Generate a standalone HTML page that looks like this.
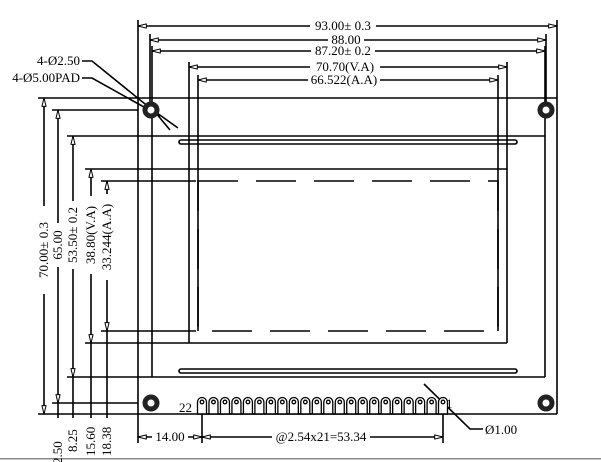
<!DOCTYPE html>
<html><head><meta charset="utf-8"><style>
html,body{margin:0;padding:0;background:#fff;}
svg{display:block;}
text{font-family:"Liberation Serif",serif;font-size:13px;fill:#000;}
</style></head><body>
<svg width="601" height="462" viewBox="0 0 601 462" xmlns="http://www.w3.org/2000/svg">
<defs>
<marker id="a" viewBox="0 0 10 6" refX="10" refY="3" markerWidth="11" markerHeight="5" orient="auto-start-reverse" markerUnits="userSpaceOnUse"><path d="M0,0.5 L10,3 L0,5.5 Z" fill="#fff" stroke="#000" stroke-width="1.2"/></marker>
</defs>
<g stroke="#000" stroke-width="1.6" fill="none">
<line x1="138" y1="20" x2="138" y2="443"/>
<line x1="557" y1="20" x2="557" y2="414"/>
<line x1="38" y1="98" x2="557" y2="98"/>
<line x1="38" y1="414" x2="557" y2="414"/>
<line x1="150" y1="34" x2="150" y2="110"/>
<line x1="546" y1="34" x2="546" y2="110"/>
<line x1="152" y1="46" x2="152" y2="377"/>
<line x1="545" y1="46" x2="545" y2="377"/>
<line x1="67" y1="136" x2="545" y2="136"/>
<line x1="67" y1="377" x2="545" y2="377"/>
<line x1="189" y1="62" x2="189" y2="343"/>
<line x1="507" y1="62" x2="507" y2="343"/>
<line x1="85" y1="169" x2="507" y2="169"/>
<line x1="85" y1="343" x2="507" y2="343"/>
<line x1="198" y1="75" x2="198" y2="331"/>
<line x1="498" y1="75" x2="498" y2="331"/>
<line x1="101" y1="181" x2="196" y2="181"/>
<line x1="101" y1="331" x2="196" y2="331"/>
<rect x="198" y="181" width="300" height="150" stroke-dasharray="40,18"/>
<rect x="179" y="140" width="338" height="4" rx="2"/>
<rect x="179" y="369" width="338" height="4" rx="2"/>
<line x1="52" y1="110" x2="138" y2="110"/>
<line x1="52" y1="403" x2="138" y2="403"/>
<line x1="138" y1="26" x2="557" y2="26" marker-start="url(#a)" marker-end="url(#a)"/>
<line x1="150" y1="40" x2="546" y2="40" marker-start="url(#a)" marker-end="url(#a)"/>
<line x1="152" y1="51" x2="545" y2="51" marker-start="url(#a)" marker-end="url(#a)"/>
<line x1="189" y1="67" x2="507" y2="67" marker-start="url(#a)" marker-end="url(#a)"/>
<line x1="198" y1="80" x2="498" y2="80" marker-start="url(#a)" marker-end="url(#a)"/>
<line x1="44" y1="98" x2="44" y2="414" marker-start="url(#a)" marker-end="url(#a)"/>
<line x1="58" y1="110" x2="58" y2="403" marker-start="url(#a)" marker-end="url(#a)"/>
<line x1="73" y1="136" x2="73" y2="377" marker-start="url(#a)" marker-end="url(#a)"/>
<line x1="91" y1="169" x2="91" y2="343" marker-start="url(#a)" marker-end="url(#a)"/>
<line x1="107" y1="181" x2="107" y2="331" marker-start="url(#a)" marker-end="url(#a)"/>
<line x1="58" y1="403" x2="58" y2="418"/>
<line x1="73" y1="377" x2="73" y2="418"/>
<line x1="91" y1="343" x2="91" y2="418"/>
<line x1="107" y1="331" x2="107" y2="418"/>
<line x1="202" y1="403" x2="202" y2="443"/>
<line x1="443" y1="403" x2="443" y2="443"/>
<line x1="138" y1="437" x2="202" y2="437" marker-start="url(#a)" marker-end="url(#a)"/>
<line x1="202" y1="437" x2="443" y2="437" marker-start="url(#a)" marker-end="url(#a)"/>
<polyline points="82,61 92,61 150,108"/>
<polyline points="82,78 92,78 160,116"/>
<line x1="150" y1="108" x2="178" y2="128"/>
<line x1="155" y1="112" x2="170" y2="130"/>
<polyline points="424,384 470,429 483,429"/>
</g>
<g fill="#fff">
<rect x="310" y="19" width="66" height="14"/>
<rect x="328" y="33" width="36" height="14"/>
<rect x="311" y="44" width="64" height="14"/>
<rect x="310" y="60" width="70" height="14"/>
<rect x="308" y="73" width="72" height="14"/>
<rect x="37" y="206" width="14" height="88"/>
<rect x="51" y="223" width="14" height="44"/>
<rect x="66" y="201" width="14" height="68"/>
<rect x="84" y="196" width="14" height="78"/>
<rect x="100" y="194" width="14" height="86"/>
<rect x="152" y="430" width="36" height="14"/>
<rect x="272" y="430" width="98" height="14"/>
</g>
<rect x="-1" y="458" width="603" height="1.5" fill="#888"/>
<g fill="#fff" stroke="#222" stroke-width="5">
<circle cx="151" cy="110" r="6"/><circle cx="546" cy="110" r="6"/>
<circle cx="151" cy="403" r="6"/><circle cx="546" cy="403" r="6"/>
</g>
<g fill="#fff" stroke="#000" stroke-width="1.3">
<path d="M197.5,414 V402 a4.5,4.5 0 0 1 9,0 V414"/><circle cx="202" cy="402" r="1.8"/>
<path d="M208.98,414 V402 a4.5,4.5 0 0 1 9,0 V414"/><circle cx="213.48" cy="402" r="1.8"/>
<path d="M220.46,414 V402 a4.5,4.5 0 0 1 9,0 V414"/><circle cx="224.96" cy="402" r="1.8"/>
<path d="M231.94,414 V402 a4.5,4.5 0 0 1 9,0 V414"/><circle cx="236.44" cy="402" r="1.8"/>
<path d="M243.42,414 V402 a4.5,4.5 0 0 1 9,0 V414"/><circle cx="247.92" cy="402" r="1.8"/>
<path d="M254.9,414 V402 a4.5,4.5 0 0 1 9,0 V414"/><circle cx="259.4" cy="402" r="1.8"/>
<path d="M266.38,414 V402 a4.5,4.5 0 0 1 9,0 V414"/><circle cx="270.88" cy="402" r="1.8"/>
<path d="M277.86,414 V402 a4.5,4.5 0 0 1 9,0 V414"/><circle cx="282.36" cy="402" r="1.8"/>
<path d="M289.34,414 V402 a4.5,4.5 0 0 1 9,0 V414"/><circle cx="293.84" cy="402" r="1.8"/>
<path d="M300.82,414 V402 a4.5,4.5 0 0 1 9,0 V414"/><circle cx="305.32" cy="402" r="1.8"/>
<path d="M312.3,414 V402 a4.5,4.5 0 0 1 9,0 V414"/><circle cx="316.8" cy="402" r="1.8"/>
<path d="M323.78,414 V402 a4.5,4.5 0 0 1 9,0 V414"/><circle cx="328.28" cy="402" r="1.8"/>
<path d="M335.26,414 V402 a4.5,4.5 0 0 1 9,0 V414"/><circle cx="339.76" cy="402" r="1.8"/>
<path d="M346.74,414 V402 a4.5,4.5 0 0 1 9,0 V414"/><circle cx="351.24" cy="402" r="1.8"/>
<path d="M358.22,414 V402 a4.5,4.5 0 0 1 9,0 V414"/><circle cx="362.72" cy="402" r="1.8"/>
<path d="M369.7,414 V402 a4.5,4.5 0 0 1 9,0 V414"/><circle cx="374.2" cy="402" r="1.8"/>
<path d="M381.18,414 V402 a4.5,4.5 0 0 1 9,0 V414"/><circle cx="385.68" cy="402" r="1.8"/>
<path d="M392.66,414 V402 a4.5,4.5 0 0 1 9,0 V414"/><circle cx="397.16" cy="402" r="1.8"/>
<path d="M404.14,414 V402 a4.5,4.5 0 0 1 9,0 V414"/><circle cx="408.64" cy="402" r="1.8"/>
<path d="M415.62,414 V402 a4.5,4.5 0 0 1 9,0 V414"/><circle cx="420.12" cy="402" r="1.8"/>
<path d="M427.1,414 V402 a4.5,4.5 0 0 1 9,0 V414"/><circle cx="431.6" cy="402" r="1.8"/>
<path d="M438.5,414 V402 a4.5,4.5 0 0 1 9,0 V414"/><circle cx="443" cy="402" r="1.8"/>
</g>
<line x1="197" y1="414" x2="448" y2="414" stroke="#000" stroke-width="1.6"/>
<text x="343" y="30" text-anchor="middle">93.00± 0.3</text>
<text x="346" y="44" text-anchor="middle">88.00</text>
<text x="343" y="55" text-anchor="middle">87.20± 0.2</text>
<text x="345" y="71" text-anchor="middle">70.70(V.A)</text>
<text x="344" y="84" text-anchor="middle">66.522(A.A)</text>
<text x="80" y="65" text-anchor="end">4-Ø2.50</text>
<text x="80" y="82" text-anchor="end">4-Ø5.00PAD</text>
<text x="192" y="412" text-anchor="end">22</text>
<text x="446" y="408">1</text>
<text x="485" y="434">Ø1.00</text>
<text x="170" y="441" text-anchor="middle">14.00</text>
<text x="321" y="441" text-anchor="middle">@2.54x21=53.34</text>
<text transform="translate(48,250) rotate(-90)" text-anchor="middle">70.00± 0.3</text>
<text transform="translate(62,245) rotate(-90)" text-anchor="middle">65.00</text>
<text transform="translate(77,235) rotate(-90)" text-anchor="middle">53.50± 0.2</text>
<text transform="translate(95,235) rotate(-90)" text-anchor="middle">38.80(V.A)</text>
<text transform="translate(111,237) rotate(-90)" text-anchor="middle">33.244(A.A)</text>
<text transform="translate(62,464) rotate(-90)">2.50</text>
<text transform="translate(77,452) rotate(-90)">8.25</text>
<text transform="translate(95,456) rotate(-90)">15.60</text>
<text transform="translate(111,456) rotate(-90)">18.38</text>
</svg>
</body></html>
